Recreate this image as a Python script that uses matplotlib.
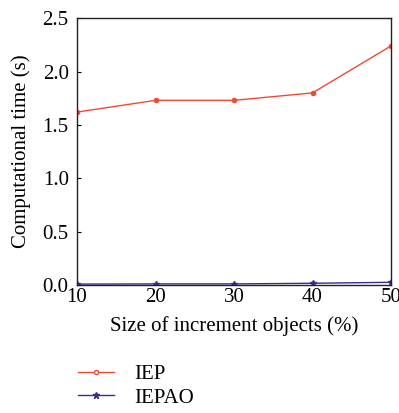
import matplotlib
matplotlib.use("Agg")
import matplotlib.pyplot as plt
from matplotlib.lines import Line2D

plt.rcParams['font.family'] = ['Liberation Serif', 'DejaVu Serif']

sizes = [10, 20, 30, 40, 50]
iep = [1.62, 1.73, 1.73, 1.80, 2.24]
iepao = [0.008, 0.010, 0.010, 0.016, 0.025]
xticks = [10, 20, 30, 40, 50]
yticks = [0.0, 0.5, 1.0, 1.5, 2.0, 2.5]

red = '#f04a33'
blue = '#3a2d8f'

fig = plt.figure(figsize=(3.99, 4.13), dpi=100)
ax = fig.add_axes([0.193, 0.31, 0.787, 0.646])
ax.plot(sizes, iep, color=red, lw=1.0, marker='o', ms=3, mfc=red, mec=red)
ax.plot(sizes, iepao, color=blue, lw=1.0, marker='*', ms=4, mfc=blue, mec=blue)
ax.set_xlim(10, 50)
ax.set_ylim(0, 2.5)
ax.set_xticks(xticks)
ax.set_yticks(yticks)
ax.set_yticklabels([f'{v:.1f}' for v in yticks])
ax.tick_params(direction='in', length=3, labelsize=15, width=0.8)
ax.tick_params(axis='x', pad=2)
ax.tick_params(axis='y', pad=6)
for s in ax.spines.values():
    s.set_linewidth(1.0)
    s.set_color('#222222')
ax.set_xlabel('Size of increment objects (%)', fontsize=15, labelpad=7)
ax.set_ylabel('Computational time (s)', fontsize=15, labelpad=8)

handles = [
    Line2D([], [], color=red, lw=1.0, marker='o', ms=3, mfc='white', mec=red),
    Line2D([], [], color=blue, lw=1.0, marker='*', ms=5, mfc=blue, mec=blue),
]
fig.legend(handles, ['IEP', 'IEPAO'], loc='upper left', bbox_to_anchor=(0.17, 0.143),
           frameon=False, fontsize=15, handlelength=1.7, handletextpad=1.0,
           labelspacing=0.2, borderpad=0)
fig.savefig('out.png', dpi=100)
